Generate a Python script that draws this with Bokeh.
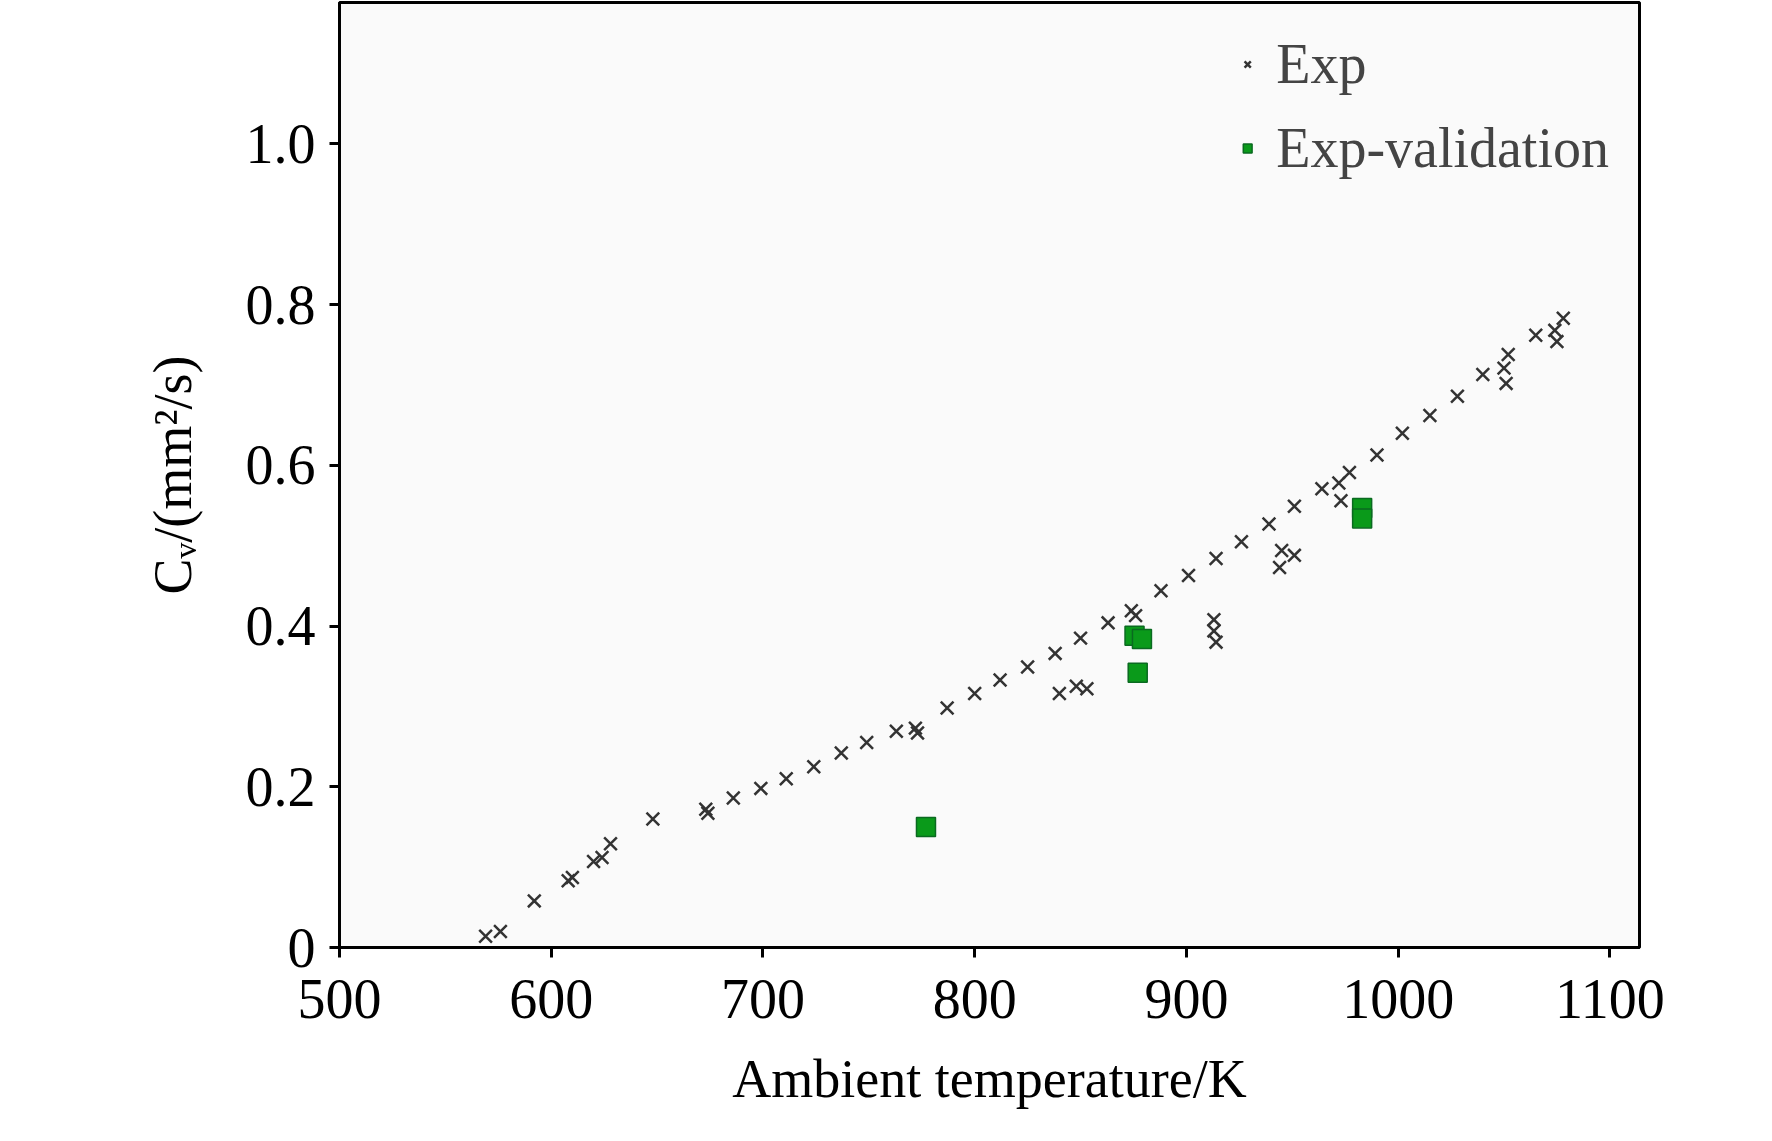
from bokeh.plotting import figure
from bokeh.models import Range1d, Legend, LegendItem, FixedTicker
from bokeh.embed import file_html
from bokeh.resources import INLINE

exp_x = [569,576,592,608,610,620,624,628,648,673,674,686,699,711,724,737,749,763,772,773,787,800,812,825,838,850,863,874,876,888,901,914,926,939,951,964,972,977,973,990,1002,1015,1028,1040,1052,1050,1051,1065,1074,1075,1078,
         840,848,853,913,913,914,944,945,951]
exp_y = [0.014,0.02,0.058,0.083,0.087,0.107,0.112,0.129,0.16,0.172,0.167,0.186,0.198,0.21,0.225,0.242,0.255,0.269,0.273,0.267,0.298,0.316,0.333,0.349,0.366,0.385,0.404,0.419,0.413,0.444,0.463,0.484,0.505,0.527,0.549,0.571,0.578,0.591,0.556,0.613,0.64,0.662,0.686,0.713,0.738,0.721,0.702,0.762,0.768,0.754,0.783,
         0.316,0.325,0.322,0.408,0.394,0.38,0.473,0.494,0.488]
val_x = [777,875.5,879,877,983,983]
val_y = [0.15,0.388,0.384,0.342,0.547,0.534]
x_ticks = [500,600,700,800,900,1000,1100]
y_ticks = [0,0.2,0.4,0.6,0.8,1.0]

F = "Liberation Serif"
p = figure(width=1756, height=1125, output_backend="svg", toolbar_location=None,
           x_range=Range1d(500,1114), y_range=Range1d(0,1.176),
           min_border_left=339, min_border_right=117, min_border_top=2, min_border_bottom=178)
p.background_fill_color = "#fafafa"
p.border_fill_color = "white"
p.grid.visible = False
p.outline_line_color = "black"; p.outline_line_width = 3
for ax in (p.xaxis[0], p.yaxis[0]):
    ax.major_label_text_font = F
    ax.major_label_text_font_size = "56px"
    ax.axis_label_text_font = F
    ax.axis_label_text_font_size = "54px"
    ax.axis_label_text_font_style = "normal"
    ax.axis_label_text_color = "black"
    ax.axis_line_width = 3
    ax.major_tick_line_width = 3
    ax.major_tick_out = 10
    ax.major_tick_in = 0
    ax.minor_tick_line_color = None
    ax.major_label_text_color = "black"
p.xaxis.major_label_standoff = 22
p.xaxis.axis_label_standoff = 28
p.yaxis.major_label_standoff = 14
p.yaxis.axis_label_standoff = 40
p.xaxis.ticker = FixedTicker(ticks=x_ticks)
p.yaxis.ticker = FixedTicker(ticks=y_ticks)
p.yaxis.major_label_overrides = {0: "0", 0.2: "0.2", 0.4: "0.4", 0.6: "0.6", 0.8: "0.8", 1.0: "1.0"}
p.xaxis.axis_label = "Ambient temperature/K"
p.yaxis.axis_label = "Cᵥ/(mm²/s)"

r1 = p.scatter(exp_x, exp_y, marker="x", size=18, line_color="#333333", line_width=2.5)
r2 = p.scatter(val_x, val_y, marker="square", size=19, fill_color="#0a9a1a", line_color="#0a6a20", line_width=1.5)
leg = Legend(items=[LegendItem(label="Exp", renderers=[r1]), LegendItem(label="Exp-validation", renderers=[r2])],
             location="top_right", label_text_font=F, label_text_font_size="56px",
             border_line_color=None, background_fill_alpha=0, spacing=20,
             glyph_width=22, glyph_height=22, label_standoff=18, margin=30, padding=10)
p.add_layout(leg)

open("out.html","w").write(file_html(p, INLINE))
